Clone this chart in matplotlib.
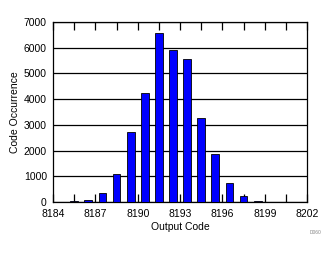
import matplotlib
matplotlib.use('Agg')
import matplotlib.pyplot as plt
import numpy as np

# histogram of output codes
codes = [8185, 8186, 8187, 8188, 8189, 8190, 8191, 8192, 8193, 8194, 8195, 8196, 8197, 8198]
counts = [30, 70, 350, 1080, 2720, 4230, 6580, 5900, 5580, 3260, 1870, 740, 230, 30]
xticks = [8184, 8187, 8190, 8193, 8196, 8199, 8202]
yticks = [0, 1000, 2000, 3000, 4000, 5000, 6000, 7000]

plt.rcParams['font.family'] = ['Liberation Sans', 'DejaVu Sans']

fig = plt.figure(figsize=(3.36, 2.54), dpi=100)
ax = fig.add_axes([0.158, 0.205, 0.756, 0.708])

ax.bar(np.array(codes) + 0.5, counts, width=0.55, color='#0000ff',
       edgecolor='black', linewidth=0.6, zorder=3)

ax.set_xlim(8184, 8202)
ax.set_ylim(0, 7000)
ax.set_xticks(xticks)
ax.set_xticks(np.arange(8184, 8202.1, 1.5), minor=True)
ax.set_yticks(yticks)
ax.yaxis.grid(True, color='black', linewidth=0.9, zorder=1)

ax.tick_params(axis='x', which='both', direction='in', top=True, length=6,
               width=0.9, labelsize=7.5, pad=5)
ax.tick_params(axis='y', which='both', length=0, labelsize=7.5, pad=4.5)
for s in ax.spines.values():
    s.set_linewidth(0.9)

ax.set_xlabel('Output Code', fontsize=7.5, labelpad=2)
ax.set_ylabel('Code Occurrence', fontsize=7.5, labelpad=2.5)
fig.text(0.955, 0.08, 'D060', fontsize=3.5, color='#888888', ha='right')

plt.savefig('out.png', dpi=100)
